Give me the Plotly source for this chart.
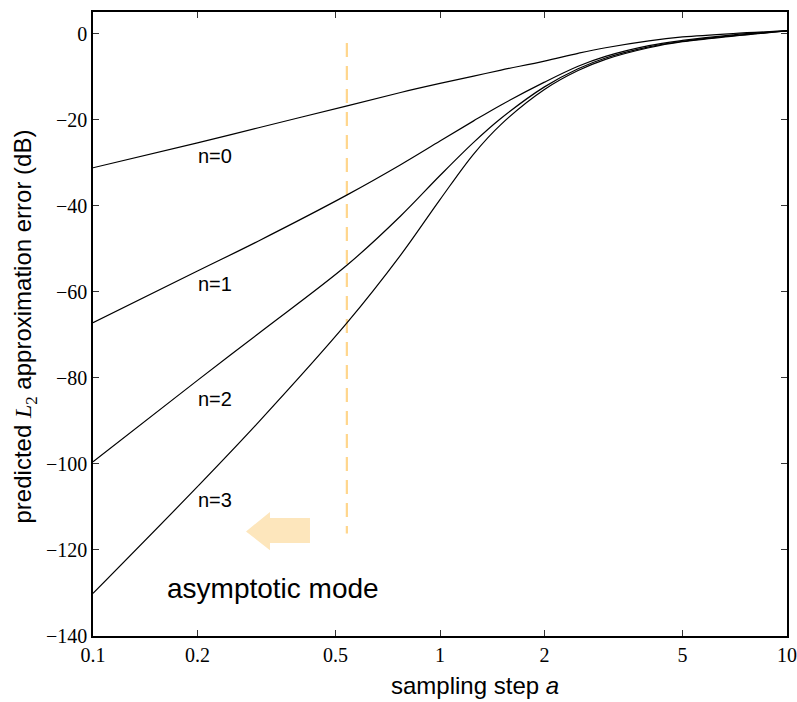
import plotly.graph_objects as go

# sampling step a
a_vals = [0.1, 0.2, 0.3, 0.54, 0.77, 1.0, 1.25, 1.5, 2.0, 2.5, 3.0, 4.0, 5.0, 7.0, 10.0]
# predicted L2 approximation error (dB)
err_n0 = [-31.2, -25.4, -21.9, -16.8, -13.7, -11.6, -9.9, -8.5, -6.4, -4.6, -3.3, -1.7, -0.8, 0.0, 0.6]
err_n1 = [-67.2, -55.2, -48.2, -37.5, -30.5, -25.0, -20.3, -16.6, -11.3, -7.6, -5.3, -2.8, -1.6, -0.3, 0.6]
err_n2 = [-99.5, -80.6, -69.7, -53.8, -42.4, -33.0, -25.3, -19.7, -12.4, -8.2, -5.7, -3.1, -1.8, -0.5, 0.6]
err_n3 = [-130.1, -105.3, -90.3, -67.2, -51.5, -38.6, -28.0, -21.1, -13.0, -8.6, -6.0, -3.3, -1.9, -0.6, 0.6]

series = [("n=0", err_n0), ("n=1", err_n1), ("n=2", err_n2), ("n=3", err_n3)]
label_y = [-28.4, -58.2, -85.0, -108.3]

x_ticks = [0.1, 0.2, 0.5, 1, 2, 5, 10]
x_ticktext = ["0.1", "0.2", "0.5", "1", "2", "5", "10"]
y_ticks = [-140, -120, -100, -80, -60, -40, -20, 0]
y_ticktext = ["\u2212140", "\u2212120", "\u2212100", "\u221280", "\u221260", "\u221240", "\u221220", "0"]

threshold_a = 0.539
threshold_span = [-2.2, -116.2]

SANS = "Liberation Sans, Arial, Helvetica, sans-serif"
SERIF = "Liberation Serif, Times New Roman, serif"

fig = go.Figure()

# asymptotic-mode arrow (light orange, pointing left)
fig.add_trace(go.Scatter(
    x=[0.276, 0.3236, 0.3236, 0.422, 0.422, 0.3236, 0.3236, 0.276],
    y=[-115.7, -111.2, -112.6, -112.6, -118.4, -118.4, -120.1, -115.7],
    mode="lines", fill="toself", fillcolor="#FDE6BC",
    line=dict(width=0, color="#FDE6BC"), hoverinfo="skip", showlegend=False))

# threshold dashed line
fig.add_trace(go.Scatter(
    x=[threshold_a, threshold_a], y=threshold_span, mode="lines",
    line=dict(color="#FFD68C", width=2.2, dash="14px,9px"),
    hoverinfo="skip", showlegend=False))

for name, ys in series:
    fig.add_trace(go.Scatter(
        x=a_vals, y=ys, mode="lines", name=name,
        line=dict(color="black", width=1.2, shape="spline", smoothing=1.0),
        showlegend=False))

annotations = []
for (name, _), ly in zip(series, label_y):
    annotations.append(dict(x=-0.647, y=ly, xref="x", yref="y", text=name,
                            showarrow=False, xanchor="center", yanchor="middle",
                            font=dict(family=SANS, size=20, color="black")))

annotations.append(dict(x=-0.4827, y=-128.9, xref="x", yref="y", text="asymptotic mode",
                        showarrow=False, xanchor="center", yanchor="middle",
                        font=dict(family=SANS, size=28, color="black")))

annotations.append(dict(x=0.5504, y=-0.080, xref="paper", yref="paper",
                        text="sampling step <i>a</i>", showarrow=False,
                        xanchor="center", yanchor="middle",
                        font=dict(family=SANS, size=24, color="black")))

annotations.append(dict(x=-0.098, y=0.496, xref="paper", yref="paper",
                        text="predicted <span style=\"font-family:Liberation Serif\"><i>L</i><sub>2</sub></span> approximation error (dB)",
                        showarrow=False, textangle=-90,
                        xanchor="center", yanchor="middle",
                        font=dict(family=SANS, size=24, color="black")))

fig.update_layout(
    width=797, height=702,
    margin=dict(l=93, r=10, t=12, b=66, autoexpand=False),
    paper_bgcolor="white", plot_bgcolor="white",
    annotations=annotations,
    xaxis=dict(type="log", range=[-1, 1], tickvals=x_ticks, ticktext=x_ticktext,
               ticks="inside", ticklen=6, tickwidth=1.2, tickcolor="#333",
               showline=True, linecolor="black", linewidth=1.5, mirror="ticks",
               showgrid=False, zeroline=False, automargin=False,
               tickfont=dict(family=SERIF, size=20, color="black")),
    yaxis=dict(range=[-140, 5], tickvals=y_ticks, ticktext=y_ticktext,
               ticks="inside", ticklen=6, tickwidth=1.2, tickcolor="#333",
               showline=True, linecolor="black", linewidth=1.5, mirror="ticks",
               showgrid=False, zeroline=False, automargin=False,
               tickfont=dict(family=SERIF, size=20, color="black")),
)

# remove the default page margin so the figure fills the window exactly
fig.write_html("out.html",
               config={"displayModeBar": False},
               post_script="document.body.style.margin='0';document.body.style.overflow='hidden';")
